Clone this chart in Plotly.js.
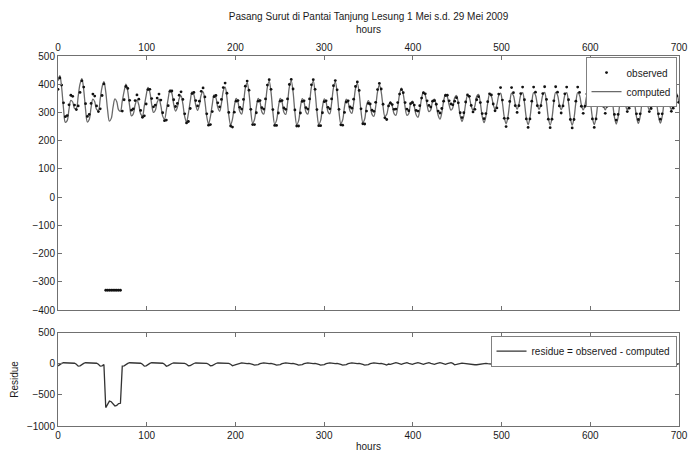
<!DOCTYPE html>
<html><head><meta charset="utf-8">
<script src="https://cdn.plot.ly/plotly-3.0.1.min.js"></script>
<style>html,body{margin:0;padding:0;background:#fff}#chart{width:692px;height:453px}</style>
</head><body><div id="chart"></div>
<script>
// hourly record sampled every HOUR_STEP hours, starting at hour 0
const HOUR_START = 0;
const HOUR_STEP = 2.07;

const computed = [
412,430,387,314,265,271,312,343,337,314,315,358,
401,420,380,311,266,275,317,347,338,311,308,348,
390,409,373,309,269,279,320,348,338,309,304,340,
375,400,375,323,288,295,327,344,327,295,288,323,
360,389,372,329,300,308,336,347,324,287,276,308,
349,381,368,329,305,318,349,359,330,285,267,296,
339,373,363,326,307,326,363,373,339,285,259,285,
328,362,352,318,304,332,376,390,352,290,256,276,
321,350,337,303,294,331,385,406,369,303,262,275,
319,350,337,302,294,333,389,411,372,302,259,272,
318,350,337,301,293,333,391,412,373,301,257,270,
318,349,336,302,294,333,390,411,372,302,258,271,
319,348,336,303,295,333,387,408,370,303,261,273,
320,347,336,305,297,332,384,403,368,305,265,277,
325,342,325,293,286,321,373,398,373,321,286,293,
323,338,323,296,290,320,365,386,365,320,290,296,
331,340,321,292,283,309,351,374,361,326,303,309,
340,347,324,290,276,299,340,365,356,326,308,317,
352,360,332,289,268,289,332,360,352,323,308,323,
357,364,333,286,264,286,333,364,357,328,312,328,
360,368,334,284,260,284,334,368,360,329,312,329,
362,370,335,282,257,282,335,370,362,329,311,329,
362,371,336,281,256,281,336,371,362,328,310,328,
361,370,335,280,255,280,335,370,361,327,309,327,
360,369,334,282,257,282,334,369,360,327,309,327,
359,368,334,283,259,283,334,368,359,327,309,327,
358,367,334,285,261,285,334,367,358,326,309,326,
358,366,334,285,262,285,334,366,358,327,310,327,
358,366,334
];

const observed = [
382,422,397,334,285,289,327,361,357,326,310,323,
371,412,390,331,286,293,332,365,358,323,303,313,
360,401,-330,-330,-330,-330,-330,-330,-330,-330,-330,305,
345,392,385,343,308,313,342,362,347,307,283,288,
330,381,382,349,320,326,351,365,344,299,271,273,
324,375,376,345,321,332,361,373,346,295,263,268,
314,367,371,342,323,340,375,387,355,295,255,257,
303,356,360,334,320,346,388,404,368,300,252,248,
301,340,342,318,312,346,393,411,379,311,257,257,
299,340,342,317,312,348,397,416,382,310,254,254,
298,340,342,316,311,348,399,417,383,309,252,252,
298,339,341,317,312,348,398,416,382,310,253,253,
299,338,341,318,313,348,395,413,380,311,256,255,
300,337,341,320,315,347,392,408,378,313,260,259,
305,332,330,308,304,336,381,403,383,329,281,275,
323,333,328,311,312,335,365,381,370,335,312,306,
331,335,326,307,305,324,351,369,366,341,325,319,
340,342,329,305,298,314,340,360,361,341,330,327,
340,352,334,299,282,299,337,362,357,325,302,311,
345,356,335,296,278,296,338,366,362,330,306,316,
365,388,344,279,250,279,339,388,370,324,300,324,
367,390,345,277,247,277,340,390,372,324,299,324,
367,391,346,276,246,276,341,391,372,323,298,323,
366,390,345,275,245,275,340,390,371,322,297,322,
365,389,344,277,247,277,339,389,370,322,297,322,
347,360,336,293,273,293,339,370,364,329,303,315,
346,359,336,295,275,295,339,369,363,328,303,314,
346,358,336,295,276,295,339,368,363,329,304,315,
346,358,336
];

const residue = [
-30,-8,10,20,20,18,15,18,20,12,-5,-35,
-30,-8,10,20,20,18,15,18,20,12,-5,-35,
-30,-8,-703,-639,-599,-609,-650,-678,-668,-639,-634,-35,
-30,-8,10,20,20,18,15,18,20,12,-5,-35,
-30,-8,10,20,20,18,15,18,20,12,-5,-35,
-25,-6,8,16,16,14,12,14,16,10,-4,-28,
-25,-6,8,16,16,14,12,14,16,10,-4,-28,
-25,-6,8,16,16,14,12,14,16,10,-4,-28,
-20,-10,5,15,18,15,8,5,10,8,-5,-18,
-20,-10,5,15,18,15,8,5,10,8,-5,-18,
-20,-10,5,15,18,15,8,5,10,8,-5,-18,
-20,-10,5,15,18,15,8,5,10,8,-5,-18,
-20,-10,5,15,18,15,8,5,10,8,-5,-18,
-20,-10,5,15,18,15,8,5,10,8,-5,-18,
-20,-10,5,15,18,15,8,5,10,8,-5,-18,
0,-5,5,15,22,15,0,-5,5,15,22,10,
0,-5,5,15,22,15,0,-5,5,15,22,10,
0,-5,5,15,22,15,0,-5,5,15,22,10,
-12,-8,2,10,14,10,5,2,5,2,-6,-12,
-12,-8,2,10,14,10,5,2,5,2,-6,-12,
5,20,10,-5,-10,-5,5,20,10,-5,-12,-5,
5,20,10,-5,-10,-5,5,20,10,-5,-12,-5,
5,20,10,-5,-10,-5,5,20,10,-5,-12,-5,
5,20,10,-5,-10,-5,5,20,10,-5,-12,-5,
5,20,10,-5,-10,-5,5,20,10,-5,-12,-5,
-12,-8,2,10,14,10,5,2,5,2,-6,-12,
-12,-8,2,10,14,10,5,2,5,2,-6,-12,
-12,-8,2,10,14,10,5,2,5,2,-6,-12,
-12,-8,2
];

const hourTicks = [0,100,200,300,400,500,600,700];
const levelTicks = [-400,-300,-200,-100,0,100,200,300,400,500];
const residueTicks = [-1000,-500,0,500];

const titleText = 'Pasang Surut di Pantai Tanjung Lesung 1 Mei s.d. 29 Mei 2009';
const FONT = 'Liberation Sans, Arial, Helvetica, sans-serif';

const axStyle = {
  showline: true, linecolor: '#707070', linewidth: 1, mirror: 'allticks',
  ticks: 'inside', ticklen: 4, tickcolor: '#707070', tickwidth: 1,
  showgrid: false, zeroline: false,
  tickfont: {size: 10, color: '#1a1a1a', family: FONT}
};

const traces = [
  {x0: HOUR_START, dx: HOUR_STEP, y: computed, type: 'scatter', mode: 'lines',
   name: 'computed', line: {color: '#6a6a6a', width: 1.3, shape: 'spline', smoothing: 1},
   xaxis: 'x', yaxis: 'y', legend: 'legend', legendrank: 2},
  {x0: HOUR_START, dx: HOUR_STEP, y: observed, type: 'scatter', mode: 'markers',
   name: 'observed', marker: {size: 2.8, color: '#111111'},
   xaxis: 'x', yaxis: 'y', legend: 'legend', legendrank: 1},
  {x0: HOUR_START, dx: HOUR_STEP, y: residue, type: 'scatter', mode: 'lines',
   name: 'residue = observed - computed', line: {color: '#333333', width: 1.3},
   xaxis: 'x2', yaxis: 'y2', legend: 'legend2'}
];

const legendStyle = {
  bgcolor: '#ffffff', bordercolor: '#808080', borderwidth: 1,
  font: {size: 10, color: '#1a1a1a', family: FONT}, itemwidth: 30, tracegroupgap: 0
};

const layout = {
  width: 692, height: 453,
  margin: {l: 58, r: 13, t: 56, b: 27},
  paper_bgcolor: '#ffffff', plot_bgcolor: '#ffffff',
  font: {family: FONT, size: 10, color: '#1a1a1a'},
  showlegend: true,
  title: {text: titleText, font: {size: 10, color: '#1a1a1a'}, x: 0.5, xref: 'paper',
          y: 1 - 16/453, yref: 'container', yanchor: 'middle'},
  xaxis: Object.assign({}, axStyle, {range: [0, 700], tickvals: hourTicks, side: 'top',
          anchor: 'y', title: {text: 'hours', font: {size: 10}, standoff: 6}}),
  yaxis: Object.assign({}, axStyle, {range: [-400, 500], tickvals: levelTicks,
          domain: [0.3135, 1], anchor: 'x'}),
  xaxis2: Object.assign({}, axStyle, {range: [0, 700], tickvals: hourTicks,
          anchor: 'y2', title: {text: 'hours', font: {size: 10}, standoff: 2}}),
  yaxis2: Object.assign({}, axStyle, {range: [-1000, 500], tickvals: residueTicks,
          domain: [0, 0.2514], anchor: 'x2', title: {text: 'Residue', font: {size: 10}, standoff: 6}}),
  legend: Object.assign({}, legendStyle, {x: 0.996, xanchor: 'right', y: 0.997, yanchor: 'top'}),
  legend2: Object.assign({}, legendStyle, {x: 0.996, xanchor: 'right', y: 0.244, yanchor: 'top'})
};

Plotly.newPlot('chart', traces, layout, {displayModeBar: false, staticPlot: true});
</script>
</body></html>
